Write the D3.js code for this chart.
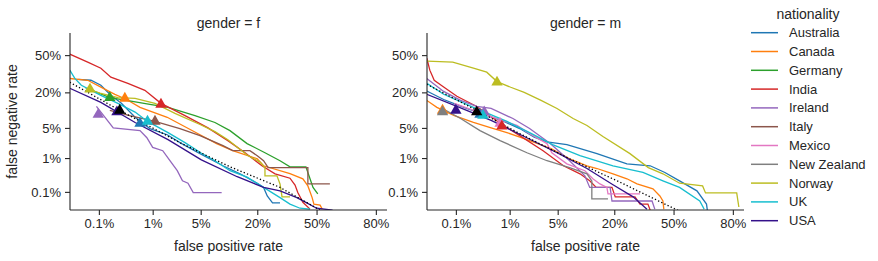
<!DOCTYPE html>
<html>
<head>
<meta charset="utf-8">
<script src="https://cdn.jsdelivr.net/npm/d3@7"></script>
<style>
  body { margin: 0; background: #fff; }
  svg { font-family: "Liberation Sans", Arial, sans-serif; }
</style>
</head>
<body>
<svg id="chart" width="878" height="261"></svg>
<script>
// nationality names + colours (legend order)
var nationalities = ["Australia", "Canada", "Germany", "India", "Ireland", "Italy",
  "Mexico", "New Zealand", "Norway", "UK", "USA"];
var colors = ["#1f77b4", "#ff7f0e", "#2ca02c", "#d62728", "#9467bd", "#8c564b",
  "#e377c2", "#7f7f7f", "#bcbd22", "#17becf", "#34118a"];

// tick values (percent)
var xTicks = [0.1, 1, 5, 20, 50, 80];
var yTicks = [0.1, 1, 5, 20, 50];

// DET curves, [false positive %, false negative %] -- gender = f
var f_Australia = [[0.036,29.2],[0.068,28.5],[0.11,24.8],[0.175,18.2],[0.28,13.8],[0.5,8.0],[0.9,4.85],[1.7,3.6],[2.62,2.4],[4.9,1.3],[9.2,0.62],[13.85,0.366],[20,0.19],[22.6,0.14],[24.2,0.073],[26.6,0.042],[30.2,0.042]];
var f_Canada = [[0.023,29.9],[0.058,28.5],[0.11,23.5],[0.21,18.8],[0.35,15.8],[0.61,11.9],[1.7,8.0],[4.9,3.6],[7.8,2.28],[11.7,1.54],[20,0.96],[22.6,0.62],[35.3,0.37],[42.3,0.26],[45.1,0.156],[47.5,0.064],[48.5,0.038],[52,0.035],[53.2,0.025]];
var f_Germany = [[0.072,21.3],[0.167,16.8],[0.35,15.3],[0.9,13.3],[1.75,11.9],[4.22,8.6],[7.46,6.4],[10.95,4.4],[16.2,2.28],[23.2,1.37],[30.2,0.85],[35.3,0.58],[44,0.58],[46.3,0.26],[48,0.14],[50.7,0.086]];
var f_India = [[0.023,50.9],[0.058,43.7],[0.11,38.4],[0.175,30.9],[0.37,26.2],[0.74,21.3],[1.36,13.8],[3.09,8.6],[6.16,5.0],[10.4,2.67],[15.5,1.37],[21.9,0.62],[27.8,0.366],[35.3,0.27],[38,0.165],[39.5,0.095],[42.3,0.044],[46.3,0.025]];
var f_Ireland = [[0.089,12.3],[0.195,5.0],[0.61,4.4],[0.8,3.1],[1.0,1.85],[1.45,1.54],[1.87,0.85],[2.4,0.45],[2.85,0.225],[3.4,0.19],[4.0,0.095],[8.9,0.095]];
var f_Italy = [[0.167,10.6],[0.4,8.6],[1.09,6.7],[2.62,4.85],[4.9,3.45],[9.2,2.04],[11.7,1.54],[17.2,1.54],[20,1.15],[22.6,0.85],[24.6,0.55],[45.1,0.55],[45.1,0.18],[57.5,0.18]];
var f_Norway = [[0.052,22.7],[0.105,19.5],[0.24,16.8],[0.5,16.4],[1.09,13.8],[2.22,9.4],[4.9,5.85],[7.46,4.2],[10.4,2.8],[16.2,1.2],[21.1,0.78],[23.2,0.55],[23.2,0.32],[28.7,0.32],[30.2,0.18],[31.2,0.068],[35.3,0.068]];
var f_UK = [[0.023,36.7],[0.03,29.9],[0.042,24.8],[0.11,18.2],[0.24,13.8],[0.5,9.9],[0.82,6.7],[1.75,4.0],[3.09,2.4],[5.0,1.37],[7.46,0.85],[10.95,0.45],[16.2,0.29],[22.6,0.14],[30.2,0.064],[35.3,0.038],[40.7,0.027],[46.3,0.025]];
var f_USA = [[0.023,22.7],[0.11,14.3],[0.5,6.4],[1.75,2.8],[5.1,0.9],[13,0.3],[22.6,0.14],[30.2,0.108],[39,0.064],[44.5,0.042],[50,0.027],[59,0.023]];
var f_overall = [[0.023,27],[0.26,10.6],[2.62,2.4],[10.95,0.58],[30.2,0.14],[52,0.023]];

// DET curves -- gender = m
var m_Australia = [[0.023,20.9],[0.055,15.8],[0.145,11.9],[0.35,9.0],[0.8,6.7],[1.45,4.85],[2.4,3.2],[3.6,2.5],[6.5,2.15],[13.85,1.3],[25.4,0.7],[37,0.62],[45.1,0.4],[53.4,0.225],[63,0.108],[68,0.038],[68.5,0.021]];
var m_Canada = [[0.023,15.3],[0.039,11.9],[0.093,8.6],[0.225,6.4],[0.48,5.0],[0.9,4.0],[1.7,2.96],[4.1,1.73],[7.0,0.96],[10.95,0.62],[13.85,0.52],[19.5,0.366],[25.4,0.26],[30.2,0.18],[38.5,0.125],[42.3,0.073],[44,0.049],[44.5,0.025]];
var m_India = [[0.023,47.3],[0.027,36.7],[0.034,28.5],[0.055,23.5],[0.105,17.6],[0.26,12.3],[0.48,8.2],[0.74,5.85],[1.45,3.45],[3.2,1.54],[5.9,0.62],[9.2,0.366],[11.7,0.225],[13.6,0.14],[19.1,0.14],[20.4,0.068],[29.2,0.068],[31.7,0.038],[35.8,0.038],[37,0.023]];
var m_Ireland = [[0.023,29.9],[0.055,20.6],[0.125,15.3],[0.26,12.3],[0.48,11.4],[1.13,7.6],[2.05,4.85],[4.0,2.28],[7.0,0.85],[10.4,0.32],[11.7,0.14],[18.4,0.14],[19.1,0.049],[38,0.049],[39.5,0.025]];
var m_Mexico = [[0.093,13.8],[0.225,10.6],[0.48,8.2],[1.31,5.6],[2.05,3.8],[3.62,2.28],[4.2,1.37],[6.5,0.7],[10.4,0.45],[12.6,0.26],[14.8,0.18],[17.2,0.14],[17.6,0.086],[31.7,0.086]];
var m_NewZealand = [[0.052,11.4],[0.125,7.6],[0.3,4.4],[0.69,2.67],[1.87,1.37],[3.62,0.85],[7.0,0.55],[10.95,0.366],[12.3,0.225],[12.3,0.058],[17.6,0.058]];
var m_Norway = [[0.023,44.6],[0.086,43.7],[0.225,38.4],[0.4,35],[0.61,27.5],[1.04,23.4],[1.7,20],[3.0,15.3],[4.9,11.4],[7.7,7.6],[10.95,5.6],[15.8,3.3],[26.8,1.3],[36,0.55],[44,0.366],[53.4,0.19],[66,0.156],[67.5,0.092],[81.5,0.092],[82.3,0.03]];
var m_UK = [[0.023,26.2],[0.055,18.8],[0.225,11.9],[0.9,6.7],[2.05,4.0],[4.3,2.15],[9.2,1.15],[19.5,0.62],[33.2,0.4],[44,0.225],[53.4,0.14],[64.5,0.049],[66.8,0.025]];
var m_USA = [[0.023,18.8],[0.105,12.3],[0.48,7.0],[1.7,3.3],[4.9,1.37],[10.95,0.52],[19.5,0.17],[28.3,0.068],[35.3,0.025]];
var m_overall = [[0.023,25.5],[0.26,10.6],[1.45,3.8],[7.0,0.96],[22.6,0.2],[53.4,0.021]];

// operating points [nationality, fpr %, fnr %]
var f_points = [["Germany",0.167,16.8],["Canada",0.325,16.4],["Norway",0.065,22],["India",1.36,13.3],
  ["Italy",1.09,6.7],["Australia",0.61,6.1],["UK",0.82,6.7],["Ireland",0.097,9.0],["USA",0.23,9.9],["overall",0.26,10.6]];
var m_points = [["Norway",0.61,27],["Canada",0.052,10.6],["New Zealand",0.052,9.9],["USA",0.1,10.6],
  ["Australia",0.3,9.0],["Ireland",0.36,9.9],["UK",0.34,8.6],["Mexico",0.69,6.1],["India",0.74,5.4],["overall",0.26,9.9]];

var f_series = [["Australia", f_Australia], ["Canada", f_Canada], ["Germany", f_Germany], ["India", f_India],
  ["Ireland", f_Ireland], ["Italy", f_Italy], ["Norway", f_Norway], ["UK", f_UK], ["USA", f_USA]];
var m_series = [["Australia", m_Australia], ["Canada", m_Canada], ["India", m_India], ["Ireland", m_Ireland],
  ["Mexico", m_Mexico], ["New Zealand", m_NewZealand], ["Norway", m_Norway], ["UK", m_UK], ["USA", m_USA]];

// inverse normal cdf (Acklam)
function probit(p) {
  var a = [-3.969683028665376e+01, 2.209460984245205e+02, -2.759285104469687e+02, 1.383577518672690e+02, -3.066479806614716e+01, 2.506628277459239e+00];
  var b = [-5.447609879822406e+01, 1.615858368580409e+02, -1.556989798598866e+02, 6.680131188771972e+01, -1.328068155288572e+01];
  var c = [-7.784894002430293e-03, -3.223964580411365e-01, -2.400758277161838e+00, -2.549732539343734e+00, 4.374664141464968e+00, 2.938163982698783e+00];
  var d = [7.784695709041462e-03, 3.224671290700398e-01, 2.445134137142996e+00, 3.754408661907416e+00];
  var q, r;
  if (p < 0.02425) {
    q = Math.sqrt(-2 * Math.log(p));
    return (((((c[0]*q+c[1])*q+c[2])*q+c[3])*q+c[4])*q+c[5]) / ((((d[0]*q+d[1])*q+d[2])*q+d[3])*q+1);
  }
  if (p <= 1 - 0.02425) {
    q = p - 0.5; r = q * q;
    return (((((a[0]*r+a[1])*r+a[2])*r+a[3])*r+a[4])*r+a[5])*q / (((((b[0]*r+b[1])*r+b[2])*r+b[3])*r+b[4])*r+1);
  }
  q = Math.sqrt(-2 * Math.log(1 - p));
  return -(((((c[0]*q+c[1])*q+c[2])*q+c[3])*q+c[4])*q+c[5]) / ((((d[0]*q+d[1])*q+d[2])*q+d[3])*q+1);
}
function pct(v) { return probit(v / 100); }

var color = d3.scaleOrdinal().domain(nationalities).range(colors);
var colorOf = function(n) { return n === "overall" ? "#000" : color(n); };

var svg = d3.select("#chart");
var ink = "#262626";
var plotW = 317, plotH = 177, plotTop = 33;

function drawPanel(left, title, series, overall, points, id) {
  var x = d3.scaleLinear().domain([-3.5, 1.0]).range([0, plotW]);
  var y = d3.scaleLinear().domain([-3.5, 0.5]).range([plotH, 0]);

  var g = svg.append("g").attr("transform", "translate(" + left + "," + plotTop + ")");

  g.append("clipPath").attr("id", "clip" + id)
    .append("rect").attr("width", plotW).attr("height", plotH);

  var line = d3.line()
    .x(function(d) { return x(pct(d[0])); })
    .y(function(d) { return y(pct(d[1])); });

  var plot = g.append("g").attr("clip-path", "url(#clip" + id + ")");

  plot.selectAll("path.det")
    .data(series)
    .enter().append("path")
      .attr("class", "det")
      .attr("d", function(d) { return line(d[1]); })
      .attr("fill", "none")
      .attr("stroke", function(d) { return colorOf(d[0]); })
      .attr("stroke-width", 1.3);

  plot.append("path")
    .attr("d", line(overall))
    .attr("fill", "none")
    .attr("stroke", "#000")
    .attr("stroke-width", 1.3)
    .attr("stroke-dasharray", "1.3,2.2");

  plot.selectAll("path.pt")
    .data(points)
    .enter().append("path")
      .attr("class", "pt")
      .attr("d", d3.symbol().type(d3.symbolTriangle).size(56))
      .attr("transform", function(d) { return "translate(" + x(pct(d[1])) + "," + y(pct(d[2])) + ")"; })
      .attr("fill", function(d) { return colorOf(d[0]); });

  var xAxis = d3.axisBottom(x)
    .tickValues(xTicks.map(pct))
    .tickFormat(function(v, i) { return xTicks[i] + "%"; })
    .tickSize(5).tickPadding(4);
  var yAxis = d3.axisLeft(y)
    .tickValues(yTicks.map(pct))
    .tickFormat(function(v, i) { return yTicks[i] + "%"; })
    .tickSize(5).tickPadding(4);

  var gx = g.append("g").attr("transform", "translate(0," + plotH + ")").call(xAxis);
  var gy = g.append("g").call(yAxis);
  [gx, gy].forEach(function(a) {
    a.select(".domain").attr("stroke", ink).attr("stroke-width", 1.1);
    a.selectAll(".tick line").attr("stroke", ink).attr("stroke-width", 1.1);
    a.selectAll(".tick text").attr("fill", ink).style("font-size", "13px")
      .style("font-family", "'Liberation Sans', Arial, sans-serif");
  });
  // drop the outer ticks of the domain path
  gx.select(".domain").attr("d", "M0,0H" + plotW);
  gy.select(".domain").attr("d", "M0,0V" + plotH);

  g.append("text")
    .attr("x", plotW / 2).attr("y", -5)
    .attr("text-anchor", "middle")
    .attr("fill", ink).style("font-size", "14px")
    .text(title);

  g.append("text")
    .attr("x", plotW / 2).attr("y", plotH + 41)
    .attr("text-anchor", "middle")
    .attr("fill", ink).style("font-size", "14px")
    .text("false positive rate");
}

drawPanel(70, "gender = f", f_series, f_overall, f_points, "f");
drawPanel(427, "gender = m", m_series, m_overall, m_points, "m");

svg.append("text")
  .attr("transform", "translate(17," + (plotTop + plotH / 2) + ") rotate(-90)")
  .attr("text-anchor", "middle")
  .attr("fill", ink).style("font-size", "14px")
  .text("false negative rate");

// legend
var legend = svg.append("g").attr("transform", "translate(751,0)");
legend.append("text")
  .attr("x", 57).attr("y", 19)
  .attr("text-anchor", "middle")
  .attr("fill", ink).style("font-size", "14px")
  .text("nationality");

var item = legend.selectAll("g.item")
  .data(nationalities)
  .enter().append("g")
    .attr("class", "item")
    .attr("transform", function(d, i) { return "translate(0," + (32.7 + i * 18.8) + ")"; });
item.append("line")
  .attr("x1", 0).attr("x2", 27)
  .attr("stroke", function(d) { return color(d); })
  .attr("stroke-width", 1.5);
item.append("text")
  .attr("x", 38).attr("y", 4.5)
  .attr("fill", ink).style("font-size", "13px")
  .text(function(d) { return d; });
</script>
</body>
</html>
